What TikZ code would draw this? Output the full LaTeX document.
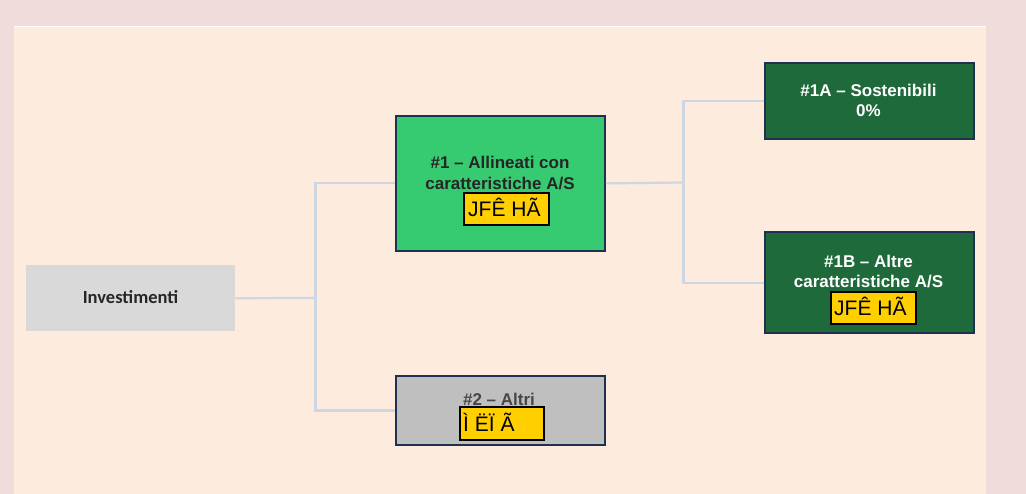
\documentclass[tikz,border=0pt]{standalone}
\usepackage{fontspec}
\setmainfont{Liberation Sans}
\newfontfamily\carl{Carlito}
\definecolor{pinkbg}{HTML}{F0DCDB}
\definecolor{panel}{HTML}{FDEBDD}
\definecolor{invgray}{HTML}{D9D9D9}
\definecolor{lgreen}{HTML}{37CB71}
\definecolor{dgreen}{HTML}{1E6A3A}
\definecolor{navy}{HTML}{1F3050}
\definecolor{othgray}{HTML}{BFBFBF}
\definecolor{ybox}{HTML}{FFCF00}
\definecolor{conn}{HTML}{CED6E2}
\definecolor{dtext}{HTML}{262626}
\tikzset{
  box/.style={draw=navy, line width=1.8pt, inner sep=0pt, anchor=north west},
  yel/.style={draw=black, fill=ybox, line width=1.8pt, inner sep=0pt, anchor=north west},
  lbl/.style={inner sep=0pt, anchor=base, font=\fontsize{17}{20}\selectfont\bfseries},
  ytext/.style={inner sep=0pt, anchor=base west, font=\fontsize{21}{24}\selectfont, text=black},
  link/.style={draw=conn, line width=2.2pt}
}
\begin{document}
\begin{tikzpicture}[x=1pt,y=-1pt]
\useasboundingbox (0,0) rectangle (1026,494);
\fill[pinkbg] (0,0) rectangle (1026,494);
\fill[panel] (14,26) rectangle (986,494);
\draw[white, line width=1.2pt] (14,26.5) -- (986,26.5);

% nodes
\node[fill=invgray, inner sep=0pt, anchor=north west, minimum width=209pt, minimum height=66pt] (inv) at (26,265) {};
\node[inner sep=0pt, anchor=base, text=dtext, font=\fontsize{18.5}{22}\selectfont\carl\bfseries] (invt) at (130.5,304) {Investimenti};

\node[box, fill=lgreen, minimum width=209pt, minimum height=135pt] (n1) at (395,115) {};
\node[lbl, text=dtext] (n1t1) at (500,169) {\#1 – Allineati con};
\node[lbl, text=dtext] (n1t2) at (500,190) {caratteristiche A/S};
\node[yel, minimum width=85pt, minimum height=32pt] (n1y) at (463,192.5) {};
\node[ytext] (n1yt) at (468,216.5) {JFÊ HÃ};

\node[box, fill=dgreen, minimum width=209pt, minimum height=76pt] (n1a) at (764,62) {};
\node[lbl, text=white] (n1at1) at (868.5,97) {\#1A – Sostenibili};
\node[lbl, text=white] (n1at2) at (868.5,117) {0\%};

\node[box, fill=dgreen, minimum width=209pt, minimum height=101pt] (n1b) at (764,231.5) {};
\node[lbl, text=white] (n1bt1) at (868.5,268) {\#1B – Altre};
\node[lbl, text=white] (n1bt2) at (868.5,288) {caratteristiche A/S};
\node[yel, minimum width=85pt, minimum height=32pt] (n1by) at (830,291.5) {};
\node[ytext] (n1byt) at (834,315.5) {JFÊ HÃ};

\node[box, fill=othgray, minimum width=209pt, minimum height=69pt] (n2) at (395,375) {};
\node[lbl, text=dtext!85] (n2t) at (499,406) {\#2 – Altri};
\node[yel, minimum width=84pt, minimum height=33pt] (n2y) at (459,406) {};
\node[ytext] (n2yt) at (463,431.5) {Ì ËÏ Ã};

% connectors
\coordinate (j1) at (315.5,298);
\coordinate (j2) at (683.5,182.5);
\draw[link] (inv.east) -- (j1);
\draw[link] (n1.west) -| (j1) |- (n2.west);
\draw[link] (n1.east) -- (j2);
\draw[link] (n1a.west) -| (j2) |- (n1b.west);
\end{tikzpicture}
\end{document}
